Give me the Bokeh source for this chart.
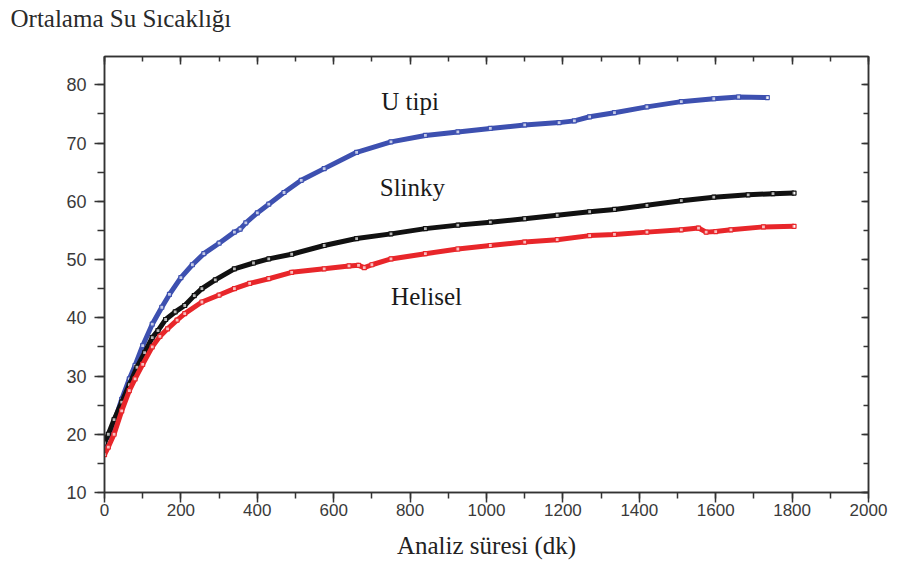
from bokeh.plotting import figure
from bokeh.models import Range1d, LinearAxis, Label, SingleIntervalTicker
from bokeh.embed import file_html
from bokeh.resources import INLINE

# ---- data ----
u_x = [0, 10, 25, 45, 65, 80, 100, 125, 150, 170, 200, 230, 260, 300, 340, 355, 370, 400, 430,
       470, 515, 575, 660, 750, 840, 925, 1010, 1100, 1190, 1230, 1270, 1335, 1420, 1510, 1595, 1660, 1735]
u_y = [17.5, 18.8, 22.0, 26.0, 29.5, 31.8, 35.2, 38.9, 41.8, 44.0, 46.9, 49.1, 51.0, 52.8, 54.7, 55.2, 56.3, 58.0, 59.5,
       61.5, 63.6, 65.6, 68.4, 70.2, 71.3, 71.9, 72.5, 73.1, 73.5, 73.8, 74.5, 75.2, 76.2, 77.1, 77.6, 77.9, 77.8]

s_x = [0, 10, 25, 45, 65, 85, 105, 125, 140, 160, 185, 210, 235, 255, 290, 340, 390, 430, 490, 575, 660,
       750, 840, 925, 1010, 1100, 1185, 1270, 1335, 1420, 1510, 1595, 1685, 1750, 1805]
s_y = [18.5, 20.0, 22.5, 25.5, 28.5, 31.5, 34.0, 36.6, 37.8, 39.7, 41.0, 42.1, 43.8, 45.0, 46.5, 48.4, 49.4, 50.1, 50.9, 52.4, 53.6,
       54.4, 55.3, 55.9, 56.4, 57.0, 57.6, 58.2, 58.6, 59.3, 60.1, 60.7, 61.1, 61.3, 61.4]

h_x = [0, 10, 25, 45, 65, 80, 100, 125, 145, 165, 190, 210, 255, 300, 340, 380, 430, 490, 575, 640, 665, 680, 700,
       750, 840, 925, 1010, 1100, 1185, 1270, 1335, 1420, 1510, 1555, 1575, 1600, 1640, 1725, 1805]
h_y = [16.5, 17.8, 20.0, 24.0, 27.5, 29.5, 32.0, 35.0, 36.8, 38.1, 39.6, 40.7, 42.7, 43.9, 45.0, 45.9, 46.7, 47.8, 48.4, 48.9, 49.0, 48.6, 49.1,
       50.1, 51.0, 51.8, 52.4, 53.0, 53.4, 54.1, 54.3, 54.7, 55.1, 55.4, 54.7, 54.8, 55.1, 55.6, 55.7]

series_names = ["U tipi", "Slinky", "Helisel"]
title_text = "Ortalama Su Sıcaklığı"
x_label = "Analiz süresi (dk)"

SERIF = "Liberation Serif"
SANS = "Liberation Sans"
AX = "#333333"

p = figure(width=898, height=564, output_backend="svg", toolbar_location=None,
           x_range=Range1d(0, 2000), y_range=Range1d(10, 84.85),
           min_border_left=104, min_border_right=30, min_border_top=55, min_border_bottom=72,
           x_axis_type=None, y_axis_type=None)
p.grid.visible = False
p.outline_line_color = AX
p.outline_line_width = 1.5
p.background_fill_color = "white"
p.border_fill_color = "white"

# a trailing blank line lifts the title text to the top of the top margin
p.title.text = title_text + "\n "
p.title.text_font = SERIF
p.title.text_font_size = "25px"
p.title.text_font_style = "normal"
p.title.text_color = "#2a2a2a"
p.title.text_line_height = 0.78
p.title.align = "left"
p.title.offset = -94
p.title.standoff = 6


def style_axis(ax, show_labels, tin, tout, min_in, min_out):
    ax.axis_line_color = AX
    ax.axis_line_width = 1.5
    ax.major_tick_line_color = AX
    ax.minor_tick_line_color = AX
    ax.major_tick_line_width = 1.5
    ax.minor_tick_line_width = 1.5
    ax.major_tick_in = tin
    ax.major_tick_out = tout
    ax.minor_tick_in = min_in
    ax.minor_tick_out = min_out
    if show_labels:
        ax.major_label_text_font = SANS
        ax.major_label_text_font_size = "17px"
        ax.major_label_text_color = "#3a3a3a"
    else:
        ax.major_label_text_font_size = "0px"
        ax.major_label_text_alpha = 0
        ax.major_label_standoff = 0


xb = LinearAxis(ticker=SingleIntervalTicker(interval=200, num_minor_ticks=2))
style_axis(xb, True, 0, 10, 0, 6)
xb.major_label_standoff = 1
xb.axis_label = x_label
xb.axis_label_text_font = SERIF
xb.axis_label_text_font_style = "normal"
xb.axis_label_text_font_size = "25px"
xb.axis_label_text_color = "#222222"
xb.axis_label_standoff = 13
p.add_layout(xb, "below")

yl = LinearAxis(ticker=SingleIntervalTicker(interval=10, num_minor_ticks=2))
style_axis(yl, True, 0, 10, 0, 7)
yl.major_label_standoff = 8
yl.major_label_text_font_size = "18px"
p.add_layout(yl, "left")

xt = LinearAxis(ticker=SingleIntervalTicker(interval=200, num_minor_ticks=2))
style_axis(xt, False, 8, 0, 5, 0)
p.add_layout(xt, "above")

yr = LinearAxis(ticker=SingleIntervalTicker(interval=10, num_minor_ticks=2))
style_axis(yr, False, 7, 0, 5, 0)
p.add_layout(yr, "right")

# ---- series ----
for xs, ys, col in [(u_x, u_y, "#3d50b0"), (s_x, s_y, "#111111"), (h_x, h_y, "#e8262a")]:
    p.line(xs, ys, line_color=col, line_width=5)
    p.scatter(xs, ys, marker="square", size=4, line_color=col, fill_color="white",
              fill_alpha=0.7, line_width=1.2)

# ---- labels ----
for name, lx, ly in zip(series_names, [800, 806, 843], [77.1, 62.4, 43.7]):
    p.add_layout(Label(x=lx, y=ly, text=name, text_font=SERIF, text_font_size="25px",
                       text_color="#1a1a1a", text_align="center", text_baseline="middle"))

open("out.html", "w").write(file_html(p, INLINE))
